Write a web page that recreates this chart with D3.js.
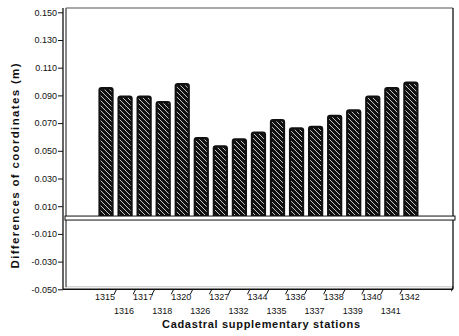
<!DOCTYPE html>
<html>
<head>
<meta charset="utf-8">
<script src="https://cdn.jsdelivr.net/npm/d3@7"></script>
<style>
  html, body { margin: 0; padding: 0; background: #fff; }
  svg { display: block; }
  text { font-family: "Liberation Sans", Arial, sans-serif; fill: #111; }
</style>
</head>
<body>
<svg id="chart" width="459" height="336"></svg>
<script>
const stations = ["1315","1316","1317","1318","1320","1326","1327","1332","1344",
                  "1335","1336","1337","1338","1339","1340","1341","1342"];
const differences = [0.096, 0.090, 0.090, 0.086, 0.099, 0.060, 0.054, 0.059, 0.064,
                     0.073, 0.067, 0.068, 0.076, 0.080, 0.090, 0.096, 0.100];
const yTicks = [0.150, 0.130, 0.110, 0.090, 0.070, 0.050, 0.030, 0.010, -0.010, -0.030, -0.050];
const yTitle = "Differences of coordinates (m)";
const xTitle = "Cadastral supplementary stations";

(function () {
const svg = d3.select("#chart");
const ink = "#111";

const y = d3.scaleLinear().domain([-0.05, 0.15]).range([289.3, 12.3]);
const x = d3.scaleBand().domain(stations).range([94.6, 422.3]).padding(0.2);

const pLeft = 63, pRight = 453, pTop = 8, pBottom = y(-0.05);

// hatch pattern
const defs = svg.append("defs");
const pat = defs.append("pattern").attr("id", "hatch")
  .attr("patternUnits", "userSpaceOnUse").attr("width", 5).attr("height", 5);
pat.append("path").attr("d", "M0,0 L5,5 M-1,4 L1,6 M4,-1 L6,1")
  .attr("stroke", "#d8d8d8").attr("stroke-width", 0.9);

// frame
const frame = svg.append("g").attr("stroke", ink).attr("fill", "none");
frame.append("line").attr("x1", pLeft).attr("x2", pLeft).attr("y1", pTop).attr("y2", pBottom).attr("stroke-width", 1.3);
frame.append("line").attr("x1", pLeft + 3).attr("x2", pLeft + 3).attr("y1", pTop).attr("y2", pBottom - 2).attr("stroke-width", 1);
frame.append("line").attr("x1", pLeft + 3).attr("x2", pRight).attr("y1", pTop).attr("y2", pTop).attr("stroke-width", 1).attr("stroke", "#555");
frame.append("line").attr("x1", pRight).attr("x2", pRight).attr("y1", pTop).attr("y2", pBottom).attr("stroke-width", 1.3);
frame.append("line").attr("x1", pLeft).attr("x2", pRight).attr("y1", pBottom).attr("y2", pBottom).attr("stroke-width", 1.4);
frame.append("line").attr("x1", pLeft + 3).attr("x2", pRight).attr("y1", pBottom - 2.5).attr("y2", pBottom - 2.5).attr("stroke-width", 0.6).attr("stroke", "#999");

// y axis
const yAxis = d3.axisLeft(y).tickValues(yTicks).tickSize(5).tickPadding(1)
  .tickFormat(d => d3.format(".3f")(d).replace("−", "-"));
const gy = svg.append("g").attr("transform", `translate(${pLeft},0)`).call(yAxis);
gy.select(".domain").remove();
gy.selectAll(".tick line").attr("stroke", ink).attr("stroke-width", 1);
gy.selectAll(".tick text").attr("font-size", 9).attr("fill", ink)
  .style("font-family", '"Liberation Sans", Arial, sans-serif');

// zero band
const z = y(0);
svg.append("rect").attr("x", pLeft + 2).attr("y", z - 4).attr("width", pRight - pLeft)
  .attr("height", 4).attr("fill", "#fff").attr("stroke", ink).attr("stroke-width", 1);

// bars
const bars = svg.append("g");
stations.forEach((s, i) => {
  const x0 = x(s), w = x.bandwidth();
  const yt = y(differences[i]), yb = z - 4;
  const r = 3;
  const d = `M${x0},${yb} L${x0},${yt + r} Q${x0},${yt} ${x0 + r},${yt} L${x0 + w - r},${yt} Q${x0 + w},${yt} ${x0 + w},${yt + r} L${x0 + w},${yb} Z`;
  bars.append("path").attr("d", d).attr("fill", ink);
  bars.append("rect").attr("x", x0 + 2.2).attr("y", yt + 2.5)
    .attr("width", w - 4.4).attr("height", Math.max(0, yb - yt - 3.5))
    .attr("fill", "url(#hatch)");
});

// x ticks (slanted, at boundaries between bars)
const step = x.step();
const gx = svg.append("g").attr("stroke", ink).attr("stroke-width", 1);
stations.slice(0, -1).forEach(s => {
  const bx = x(s) + x.bandwidth() + step * x.paddingInner() / 2;
  gx.append("line").attr("x1", bx + 1).attr("y1", pBottom).attr("x2", bx - 1.5).attr("y2", pBottom + 5);
});
gx.append("line").attr("x1", pRight).attr("y1", pBottom - 3).attr("x2", pRight - 1.5).attr("y2", pBottom + 2);

// x labels (alternating rows)
svg.append("g").selectAll("text").data(stations).join("text")
  .attr("x", d => x(d) + x.bandwidth() / 2 - 1)
  .attr("y", (d, i) => i % 2 === 0 ? 300 : 314)
  .attr("text-anchor", "middle").attr("font-size", 9)
  .text(d => d);

// titles
svg.append("text").attr("x", 261).attr("y", 327.5).attr("text-anchor", "middle")
  .attr("font-size", 11).attr("font-weight", "bold")
  .attr("textLength", 198).attr("lengthAdjust", "spacing").text(xTitle);
svg.append("text").attr("transform", "translate(19,166) rotate(-90)")
  .attr("text-anchor", "middle").attr("font-size", 11.5).attr("font-weight", "bold")
  .attr("textLength", 205).attr("lengthAdjust", "spacing").text(yTitle);
})();
</script>
</body>
</html>
